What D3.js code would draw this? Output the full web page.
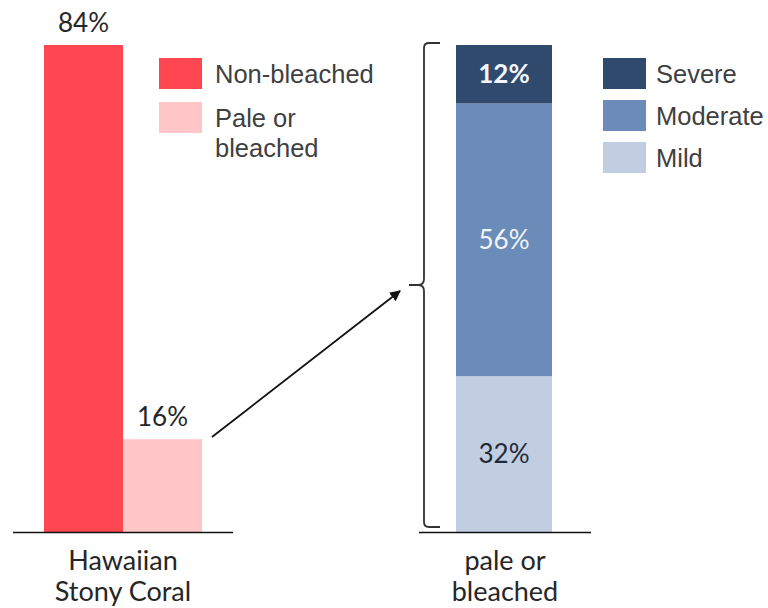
<!DOCTYPE html>
<html>
<head>
<meta charset="utf-8">
<script src="https://cdn.jsdelivr.net/npm/d3@7"></script>
<style>
  html, body { margin: 0; padding: 0; background: #fff; }
  svg { display: block; }
</style>
</head>
<body>
<svg id="chart" width="768" height="608"></svg>
<script>
// Overall coral condition (percent of colonies)
const conditionCategories = ["Non-bleached", "Pale or bleached"];
const conditionValues = [84, 16];
const conditionColors = ["#FF4751", "#FFC6C8"];

// Severity breakdown of pale or bleached colonies (percent)
const severityCategories = ["Mild", "Moderate", "Severe"];
const severityValues = [32, 56, 12];
const severityColors = ["#C1CDE0", "#6B8BB8", "#304A6E"];
const severityLegend = ["Severe", "Moderate", "Mild"];

const leftAxisLabel = ["Hawaiian", "Stony Coral"];
const rightAxisLabel = ["pale or", "bleached"];

const svg = d3.select("#chart");
const baseY = 532, topY = 45;
const labelFont = "Lato, 'Open Sans', sans-serif";
const legendFont = "'Liberation Sans', Arial, sans-serif";

// ---- Left chart: side-by-side bars ----
const xLeft = d3.scaleBand().domain(conditionCategories).range([44, 202]).padding(0);
const yLeft = d3.scaleLinear().domain([0, 84]).range([baseY, topY]);

svg.append("g").selectAll("rect")
  .data(conditionValues)
  .join("rect")
  .attr("x", (d, i) => xLeft(conditionCategories[i]))
  .attr("width", xLeft.bandwidth())
  .attr("y", d => yLeft(d))
  .attr("height", d => baseY - yLeft(d))
  .attr("fill", (d, i) => conditionColors[i]);

svg.append("g").selectAll("text")
  .data(conditionValues)
  .join("text")
  .attr("x", (d, i) => xLeft(conditionCategories[i]) + xLeft.bandwidth() / 2)
  .attr("y", d => yLeft(d) - 13)
  .attr("text-anchor", "middle")
  .attr("font-family", labelFont)
  .attr("font-size", 26)
  .attr("fill", "#262626")
  .text(d => d + "%");

svg.append("line")
  .attr("x1", 13).attr("x2", 233).attr("y1", baseY + 0.5).attr("y2", baseY + 0.5)
  .attr("stroke", "#111").attr("stroke-width", 1.6);

svg.append("text")
  .attr("x", 123).attr("y", 570)
  .attr("text-anchor", "middle")
  .attr("font-family", labelFont).attr("font-size", 27).attr("fill", "#262626")
  .selectAll("tspan").data(leftAxisLabel).join("tspan")
  .attr("x", 123).attr("dy", (d, i) => i === 0 ? 0 : 31)
  .text(d => d);

// Left legend
const leftLegend = [
  { label: ["Non-bleached"], color: conditionColors[0], y: 58 },
  { label: ["Pale or", "bleached"], color: conditionColors[1], y: 102 }
];
const ll = svg.append("g").selectAll("g").data(leftLegend).join("g");
ll.append("rect")
  .attr("x", 159).attr("y", d => d.y).attr("width", 43).attr("height", 31)
  .attr("fill", d => d.color);
ll.append("text")
  .attr("font-family", legendFont).attr("font-size", 25.5).attr("fill", "#404040")
  .attr("y", d => d.y + 25)
  .selectAll("tspan").data(d => d.label).join("tspan")
  .attr("x", 215).attr("dy", (d, i) => i === 0 ? 0 : 30)
  .text(d => d);

// ---- Right chart: stacked bar ----
const xRight = d3.scaleBand().domain(["pale or bleached"]).range([456, 552]).padding(0);
const yRight = d3.scaleLinear().domain([0, 100]).range([baseY, topY]);

const stackData = [Object.fromEntries(severityCategories.map((c, i) => [c, severityValues[i]]))];
const series = d3.stack().keys(severityCategories)(stackData);

const segs = svg.append("g").selectAll("g").data(series).join("g");
segs.append("rect")
  .attr("x", xRight("pale or bleached"))
  .attr("width", xRight.bandwidth())
  .attr("y", s => yRight(s[0][1]))
  .attr("height", s => yRight(s[0][0]) - yRight(s[0][1]))
  .attr("fill", (s, i) => severityColors[i]);
segs.append("text")
  .attr("x", xRight("pale or bleached") + xRight.bandwidth() / 2)
  .attr("y", s => (yRight(s[0][0]) + yRight(s[0][1])) / 2 + 9)
  .attr("text-anchor", "middle")
  .attr("font-family", labelFont).attr("font-size", 26)
  .attr("font-weight", (s, i) => i === 2 ? 700 : 400)
  .attr("fill", (s, i) => i === 0 ? "#1f2a3a" : "#f2f5fa")
  .text((s, i) => severityValues[i] + "%");

svg.append("line")
  .attr("x1", 419).attr("x2", 591).attr("y1", baseY + 0.5).attr("y2", baseY + 0.5)
  .attr("stroke", "#111").attr("stroke-width", 1.6);

svg.append("text")
  .attr("x", 505).attr("y", 570)
  .attr("text-anchor", "middle")
  .attr("font-family", labelFont).attr("font-size", 27).attr("fill", "#262626")
  .selectAll("tspan").data(rightAxisLabel).join("tspan")
  .attr("x", 505).attr("dy", (d, i) => i === 0 ? 0 : 31)
  .text(d => d);

// Right legend
const rl = svg.append("g").selectAll("g").data(severityLegend).join("g");
rl.append("rect")
  .attr("x", 603).attr("y", (d, i) => 58 + i * 42).attr("width", 43).attr("height", 31)
  .attr("fill", d => severityColors[severityCategories.indexOf(d)]);
rl.append("text")
  .attr("x", 656).attr("y", (d, i) => 83 + i * 42)
  .attr("font-family", legendFont).attr("font-size", 25.5).attr("fill", "#404040")
  .text(d => d);

// ---- Curly bracket spanning the stacked bar ----
const bTop = 43, bBot = 527, bMid = 285, bx = 424;
const bracket = d3.path();
bracket.moveTo(440, bTop);
bracket.lineTo(bx + 5, bTop);
bracket.quadraticCurveTo(bx, bTop, bx, bTop + 5);
bracket.lineTo(bx, bMid - 6);
bracket.quadraticCurveTo(bx, bMid, bx - 6, bMid);
bracket.lineTo(409, bMid);
bracket.moveTo(bx - 6, bMid);
bracket.quadraticCurveTo(bx, bMid, bx, bMid + 6);
bracket.lineTo(bx, bBot - 5);
bracket.quadraticCurveTo(bx, bBot, bx + 5, bBot);
bracket.lineTo(440, bBot);
svg.append("path").attr("d", bracket.toString())
  .attr("fill", "none").attr("stroke", "#333").attr("stroke-width", 1.8);

// ---- Arrow from the pale bar to the bracket ----
svg.append("defs").append("marker")
  .attr("id", "arrowhead")
  .attr("viewBox", "0 0 10 10").attr("refX", 9).attr("refY", 5)
  .attr("markerWidth", 6).attr("markerHeight", 6)
  .attr("markerUnits", "strokeWidth")
  .attr("orient", "auto")
  .append("path").attr("d", "M0,0 L10,5 L0,10 Z").attr("fill", "#111");

svg.append("line")
  .attr("x1", 212).attr("y1", 437).attr("x2", 400).attr("y2", 291)
  .attr("stroke", "#111").attr("stroke-width", 1.8)
  .attr("marker-end", "url(#arrowhead)");
</script>
</body>
</html>
